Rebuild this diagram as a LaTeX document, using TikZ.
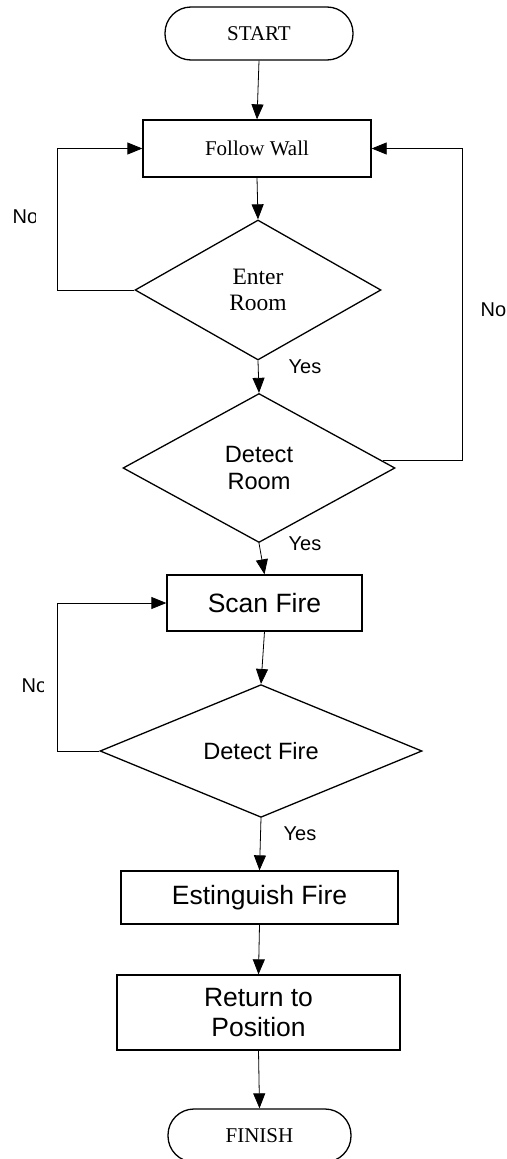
\documentclass[tikz,border=0pt]{standalone}
\usepackage{fontspec}
\setmainfont{Liberation Serif}
\newfontfamily\sansf{Liberation Sans}
\usetikzlibrary{shapes.geometric,arrows.meta,calc}
\begin{document}
\begin{tikzpicture}[x=1pt,y=-1pt,
  shp/.style={draw=black,line width=1.3pt,inner sep=0pt,align=center},
  pill/.style={shp,rectangle,rounded corners=26pt},
  boxn/.style={shp,rectangle},
  dia/.style={shp,diamond},
  arr/.style={-{Triangle[length=15pt,width=12pt]},line width=0.8pt},
  lin/.style={line width=0.8pt},
  serifA/.style={font=\fontsize{21}{24}\selectfont},
  serifB/.style={font=\fontsize{23.5}{26}\selectfont},
  sansA/.style={font=\sansf\fontsize{26.5}{29.5}\selectfont},
  sansB/.style={font=\sansf\fontsize{23.6}{27}\selectfont},
  lab/.style={font=\sansf\fontsize{20}{22}\selectfont,inner sep=0pt}]
\useasboundingbox (0,0) rectangle (506,1159);

\node[pill,serifA,minimum width=188pt,minimum height=53pt] (start) at (259,33.5) {START};
\node[boxn,serifA,minimum width=228pt,minimum height=57pt] (fw) at (257,148.5) {Follow Wall};
\node[dia,serifB,minimum width=246pt,minimum height=140pt] (er) at (258,290) {Enter\\Room};
\node[dia,sansB,minimum width=272pt,minimum height=149pt] (dr) at (259,468) {Detect\\Room};
\node[boxn,sansA,minimum width=195pt,minimum height=56pt] (sf) at (264.5,603) {Scan Fire};
\node[dia,sansB,minimum width=322pt,minimum height=124pt] (df) at (261,751) {Detect Fire};
\node[boxn,sansA,minimum width=277pt,minimum height=53pt] (ef) at (259.5,897.5) {Estinguish Fire};
\node[boxn,sansA,minimum width=283pt,minimum height=75pt] (rp) at (258.5,1012.5) {Return to\\Position};
\node[pill,serifA,minimum width=183pt,minimum height=53pt] (fin) at (259.5,1135.5) {FINISH};

\draw[arr] (start.south) -- (fw.north);
\draw[arr] (fw.south) -- (er.north);
\draw[arr] (er.south) -- (dr.north);
\draw[arr] (dr.south) -- (sf.north);
\draw[arr] (sf.south) -- (df.north);
\draw[arr] (df.south) -- (ef.north);
\draw[arr] (ef.south) -- (rp.north);
\draw[arr] (rp.south) -- (fin.north);

\coordinate (l1) at (57,148.5);
\coordinate (r1) at (462,148.5);
\coordinate (l2) at (57,603);
\coordinate (p1) at ($(dr.east)!0.095!(dr.north)$);
\draw[arr] (er.west) -| (l1) -- (fw.west);
\draw[arr] (p1) -| (r1) -- (fw.east);
\draw[arr] (df.west) -| (l2) -- (sf.west);

\node[lab] (y1) at (305,367) {Yes};
\node[lab] (y2) at (305,544) {Yes};
\node[lab] (y3) at (300,834) {Yes};
\begin{scope}
  \clip (0,195) rectangle (35.5,240);
  \node[lab,anchor=west] (n1) at (12.5,217) {No};
\end{scope}
\begin{scope}
  \clip (0,665) rectangle (43.5,710);
  \node[lab,anchor=west] (n2) at (21.5,686) {No};
\end{scope}
\node[lab,anchor=west] (n3) at (480.5,310) {No};
\end{tikzpicture}
\end{document}
